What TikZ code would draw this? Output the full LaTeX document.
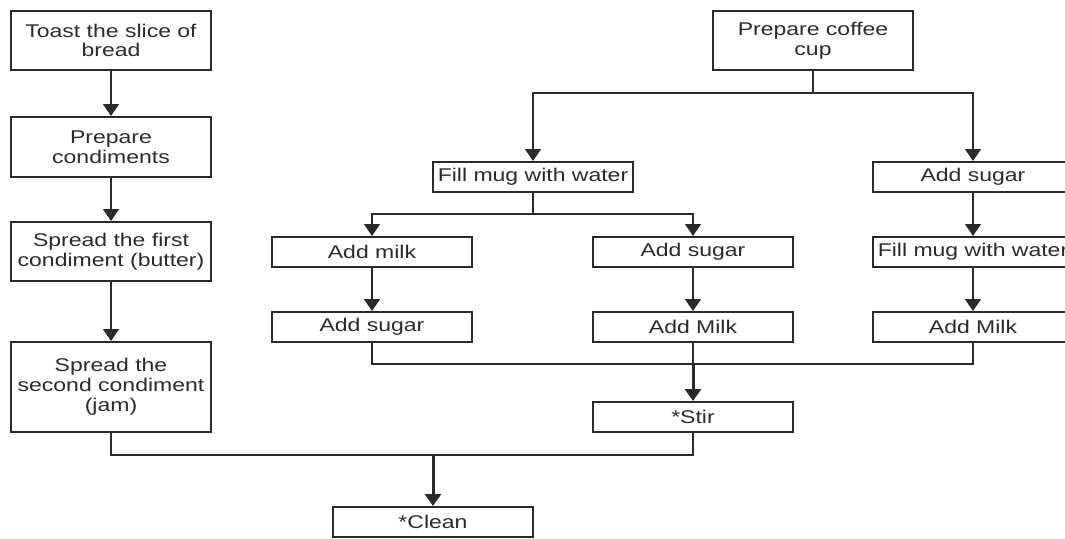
\documentclass[tikz,border=0pt]{standalone}
\usepackage{fontspec}
\setmainfont[FakeStretch=1.25]{Liberation Sans}
\usetikzlibrary{arrows.meta}
\definecolor{ink}{HTML}{2A2A2A}
\begin{document}
\begin{tikzpicture}[x=0.5pt,y=-0.5pt,
  box/.style={draw=ink, line width=1pt, text=ink, align=center, inner sep=0pt,
    minimum width=100pt, minimum height=15pt,
    font=\fontsize{9.2}{9.9}\selectfont},
  link/.style={draw=ink, line width=0.8pt},
  arr/.style={link, -{Triangle[width=8pt,length=6pt]}},
  bigarr/.style={arr, line width=1.5pt}]
\useasboundingbox (0,0) rectangle (1065,538);
% toast column
\node[box, minimum height=29.5pt] (toast) at (111,40.5){Toast the slice of\\bread};
\node[box, minimum height=30pt] (cond) at (111,147){Prepare\\condiments};
\node[box, minimum height=29.5pt] (first) at (111,251.5){Spread the first\\condiment (butter)};
\node[box, minimum height=45pt] (second) at (111,387){Spread the\\second condiment\\(jam)};
\draw[arr](toast) -- (cond);
\draw[arr](cond) -- (first);
\draw[arr](first) -- (second);
% coffee part
\node[box, minimum height=29.5pt] (coffee) at (813,40.5){Prepare coffee\\cup};
\node[box] (fillA) at (533,177){Fill mug with water};
\node[box] (sugarR) at (973,177){Add sugar};
\coordinate (j1) at (813,93);
\draw[link](coffee) -- (j1);
\draw[arr](j1) -| (fillA);
\draw[arr](j1) -| (sugarR);
\node[box] (milkA) at (372,252){Add milk};
\node[box] (sugarA) at (372,327){Add sugar};
\node[box] (sugarB) at (693,252){Add sugar};
\node[box] (milkB) at (693,327){Add Milk};
\coordinate (j2) at (533,214);
\draw[link](fillA) -- (j2);
\draw[arr](j2) -| (milkA);
\draw[arr](j2) -| (sugarB);
\draw[arr](milkA) -- (sugarA);
\draw[arr](sugarB) -- (milkB);
\node[box] (fillR) at (973,252){Fill mug with water};
\node[box] (milkR) at (973,327){Add Milk};
\draw[arr](sugarR) -- (fillR);
\draw[arr](fillR) -- (milkR);
% merging
\node[box] (stir) at (693,417){*Stir};
\coordinate (j3) at (693,364);
\draw[link](sugarA) |- (j3);
\draw[link](milkR) |- (j3);
\draw[link](milkB) -- (j3);
\draw[bigarr](j3) -- (stir);
\node[box] (clean) at (433,522){*Clean};
\coordinate (j4) at (433,455);
\draw[link](second) |- (j4);
\draw[link](stir) |- (j4);
\draw[bigarr](j4) -- (clean);
\end{tikzpicture}
\end{document}
